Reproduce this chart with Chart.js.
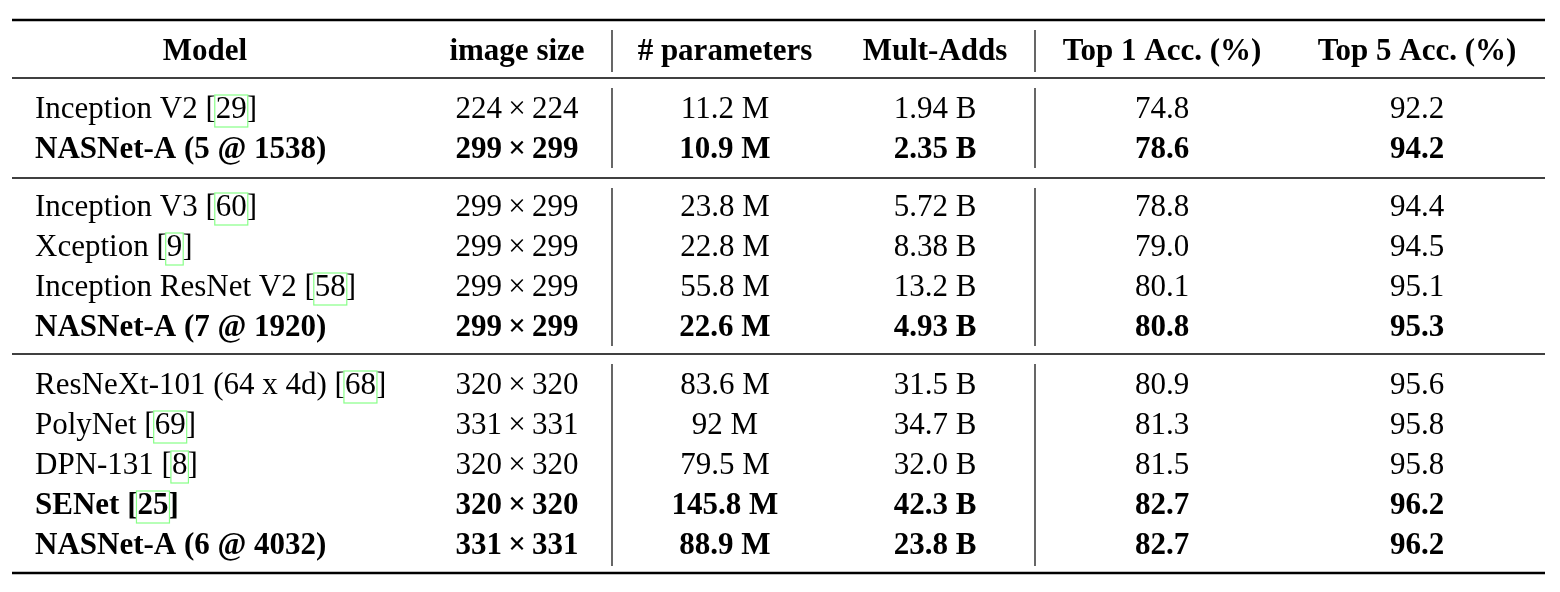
<!DOCTYPE html>
<html><head><meta charset="utf-8">
<script src="https://cdn.jsdelivr.net/npm/chart.js@4"></script>
<style>html,body{margin:0;padding:0;background:#fff}#wrap{width:1560px;height:592px}</style>
</head><body><div id="wrap"><canvas id="c" width="1560" height="592"></canvas></div>
<script>
const headers = ["Model","image size","# parameters","Mult-Adds","Top 1 Acc. (%)","Top 5 Acc. (%)"];
const models = ["Inception V2 [29]","NASNet-A (5 @ 1538)","Inception V3 [60]","Xception [9]","Inception ResNet V2 [58]","NASNet-A (7 @ 1920)","ResNeXt-101 (64 x 4d) [68]","PolyNet [69]","DPN-131 [8]","SENet [25]","NASNet-A (6 @ 4032)"];
const imageSizes = ["224\u2009×\u2009224","299\u2009×\u2009299","299\u2009×\u2009299","299\u2009×\u2009299","299\u2009×\u2009299","299\u2009×\u2009299","320\u2009×\u2009320","331\u2009×\u2009331","320\u2009×\u2009320","320\u2009×\u2009320","331\u2009×\u2009331"];
const params = ["11.2 M","10.9 M","23.8 M","22.8 M","55.8 M","22.6 M","83.6 M","92 M","79.5 M","145.8 M","88.9 M"];
const multAdds = ["1.94 B","2.35 B","5.72 B","8.38 B","13.2 B","4.93 B","31.5 B","34.7 B","32.0 B","42.3 B","23.8 B"];
const top1 = [74.8,78.6,78.8,79.0,80.1,80.8,80.9,81.3,81.5,82.7,82.7];
const top5 = [92.2,94.2,94.4,94.5,95.1,95.3,95.6,95.8,95.8,96.2,96.2];
const bold = [false,true,false,false,false,true,false,false,false,true,true];
const groups = [0,0,1,1,1,1,2,2,2,2,2];

// layout
const colX = [35,517,725,935,1162,1417];
const align = ['left','center','center','center','center','center'];
const headerX = [205,517,725,935,1162,1417];
const headerY = 50;
const rowYs = []; {let y=108, prev=0; groups.forEach((g,i)=>{ if(i>0){ y += (g!==prev)?58:40; } prev=g; rowYs.push(y); });}
const cols = [models,imageSizes,params,multAdds,top1.map(v=>v.toFixed(1)),top5.map(v=>v.toFixed(1))];

const pts = [];
headers.forEach((h,c)=>pts.push({x:headerX[c],y:headerY,t:h,c:c,b:true,hdr:true}));
models.forEach((m,r)=>cols.forEach((col,c)=>pts.push({x:colX[c],y:rowYs[r],t:String(col[r]),c:c,b:bold[r]})));

const FONT = "Liberation Serif";
const tablePlugin = {
  id:'table',
  afterDatasetsDraw(chart){
    const ctx = chart.ctx, xs = chart.scales.x, ys = chart.scales.y;
    ctx.save();
    ctx.strokeStyle='#000';
    const hl=(y,w)=>{ctx.lineWidth=w;ctx.beginPath();ctx.moveTo(xs.getPixelForValue(12),ys.getPixelForValue(y));ctx.lineTo(xs.getPixelForValue(1545),ys.getPixelForValue(y));ctx.stroke();};
    hl(20,2.5); hl(78,1.3); hl(178,1.3); hl(354,1.3); hl(573,2.5);
    const vl=(x,y0,y1)=>{ctx.lineWidth=1.2;ctx.beginPath();ctx.moveTo(xs.getPixelForValue(x),ys.getPixelForValue(y0));ctx.lineTo(xs.getPixelForValue(x),ys.getPixelForValue(y1));ctx.stroke();};
    [[30,72],[88,168],[188,346],[364,566]].forEach(([a,b])=>{vl(612,a,b);vl(1035,a,b);});
    const meta = chart.getDatasetMeta(0);
    meta.data.forEach((el,i)=>{
      const p = pts[i];
      ctx.font = (p.b?'bold ':'')+'31px "'+FONT+'"';
      ctx.fillStyle='#000'; ctx.textBaseline='middle';
      const a = p.hdr?'center':align[p.c];
      const y = el.y+2;
      const m = p.t.match(/^(.*\[)(\d+)(\].*)$/);
      if(m){
        ctx.textAlign='left';
        let x = el.x;
        const w1=ctx.measureText(m[1]).width, w2=ctx.measureText(m[2]).width;
        ctx.fillText(m[1],x,y); ctx.fillText(m[2],x+w1,y); ctx.fillText(m[3],x+w1+w2,y);
        ctx.strokeStyle='#8f8'; ctx.lineWidth=1.2;
        ctx.strokeRect(x+w1-1,y-15,w2+2,32);
        ctx.strokeStyle='#000';
      } else {
        ctx.textAlign=a; ctx.fillText(p.t,el.x,y);
      }
    });
    ctx.restore();
  }
};
new Chart(document.getElementById('c'),{
  type:'scatter',
  data:{datasets:[{data:pts.map(p=>({x:p.x,y:p.y})),pointRadius:0,pointHoverRadius:0}]},
  options:{responsive:false,animation:false,events:[],
    layout:{padding:0},
    plugins:{legend:{display:false},tooltip:{enabled:false}},
    scales:{x:{type:'linear',min:0,max:1560,display:false},y:{type:'linear',min:0,max:592,reverse:true,display:false}}},
  plugins:[tablePlugin]
});
</script></body></html>
